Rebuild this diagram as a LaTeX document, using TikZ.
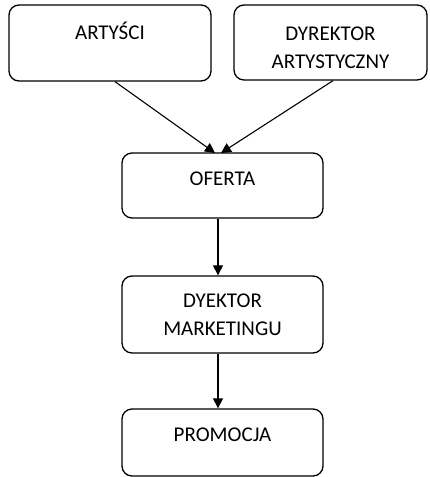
\documentclass[tikz,border=0pt]{standalone}
\usepackage{fontspec}
\setmainfont{Carlito}
\usetikzlibrary{arrows.meta}
\begin{document}
\begin{tikzpicture}[x=1pt,y=-1pt,
  box/.style={draw=black, line width=1.3pt, rounded corners=10pt, inner sep=0pt, fill=white},
  label text/.style={font=\fontsize{21}{27.5}\selectfont, align=center, inner sep=0pt, anchor=base},
  flow/.style={line width=1.1pt, -{Triangle[length=10pt,width=10pt]}}]
  \useasboundingbox (0,0) rectangle (429,477);

  % boxes
  \node[box, minimum width=202pt, minimum height=76pt] (art) at (110,43) {};
  \node[box, minimum width=193pt, minimum height=75pt] (dyr) at (330.5,42.5) {};
  \node[box, minimum width=201pt, minimum height=65pt] (ofe) at (222.5,185.5) {};
  \node[box, minimum width=201pt, minimum height=77pt] (mar) at (222.5,314.5) {};
  \node[box, minimum width=201pt, minimum height=67pt] (pro) at (222.5,442.5) {};

  % texts (top aligned inside the boxes; base = last line)
  \node[label text] (art-t) at (110,39) {ARTYŚCI};
  \node[label text] (dyr-t) at (330.5,68) {DYREKTOR\\ARTYSTYCZNY};
  \node[label text] (ofe-t) at (222.5,185) {OFERTA};
  \node[label text] (mar-t) at (222.5,335) {DYEKTOR\\MARKETINGU};
  \node[label text] (pro-t) at (222.5,441) {PROMOCJA};

  % connectors
  \coordinate (in1) at (215,153);
  \coordinate (in2) at (221,153);
  \draw[flow] ([xshift=5pt]art.south) -- (in1);
  \draw[flow] ([xshift=2.5pt]dyr.south) -- (in2);
  \draw[flow] (ofe.south -| 218,0) -- (mar.north -| 218,0);
  \draw[flow] (mar.south -| 218,0) -- (pro.north -| 218,0);
\end{tikzpicture}
\end{document}
